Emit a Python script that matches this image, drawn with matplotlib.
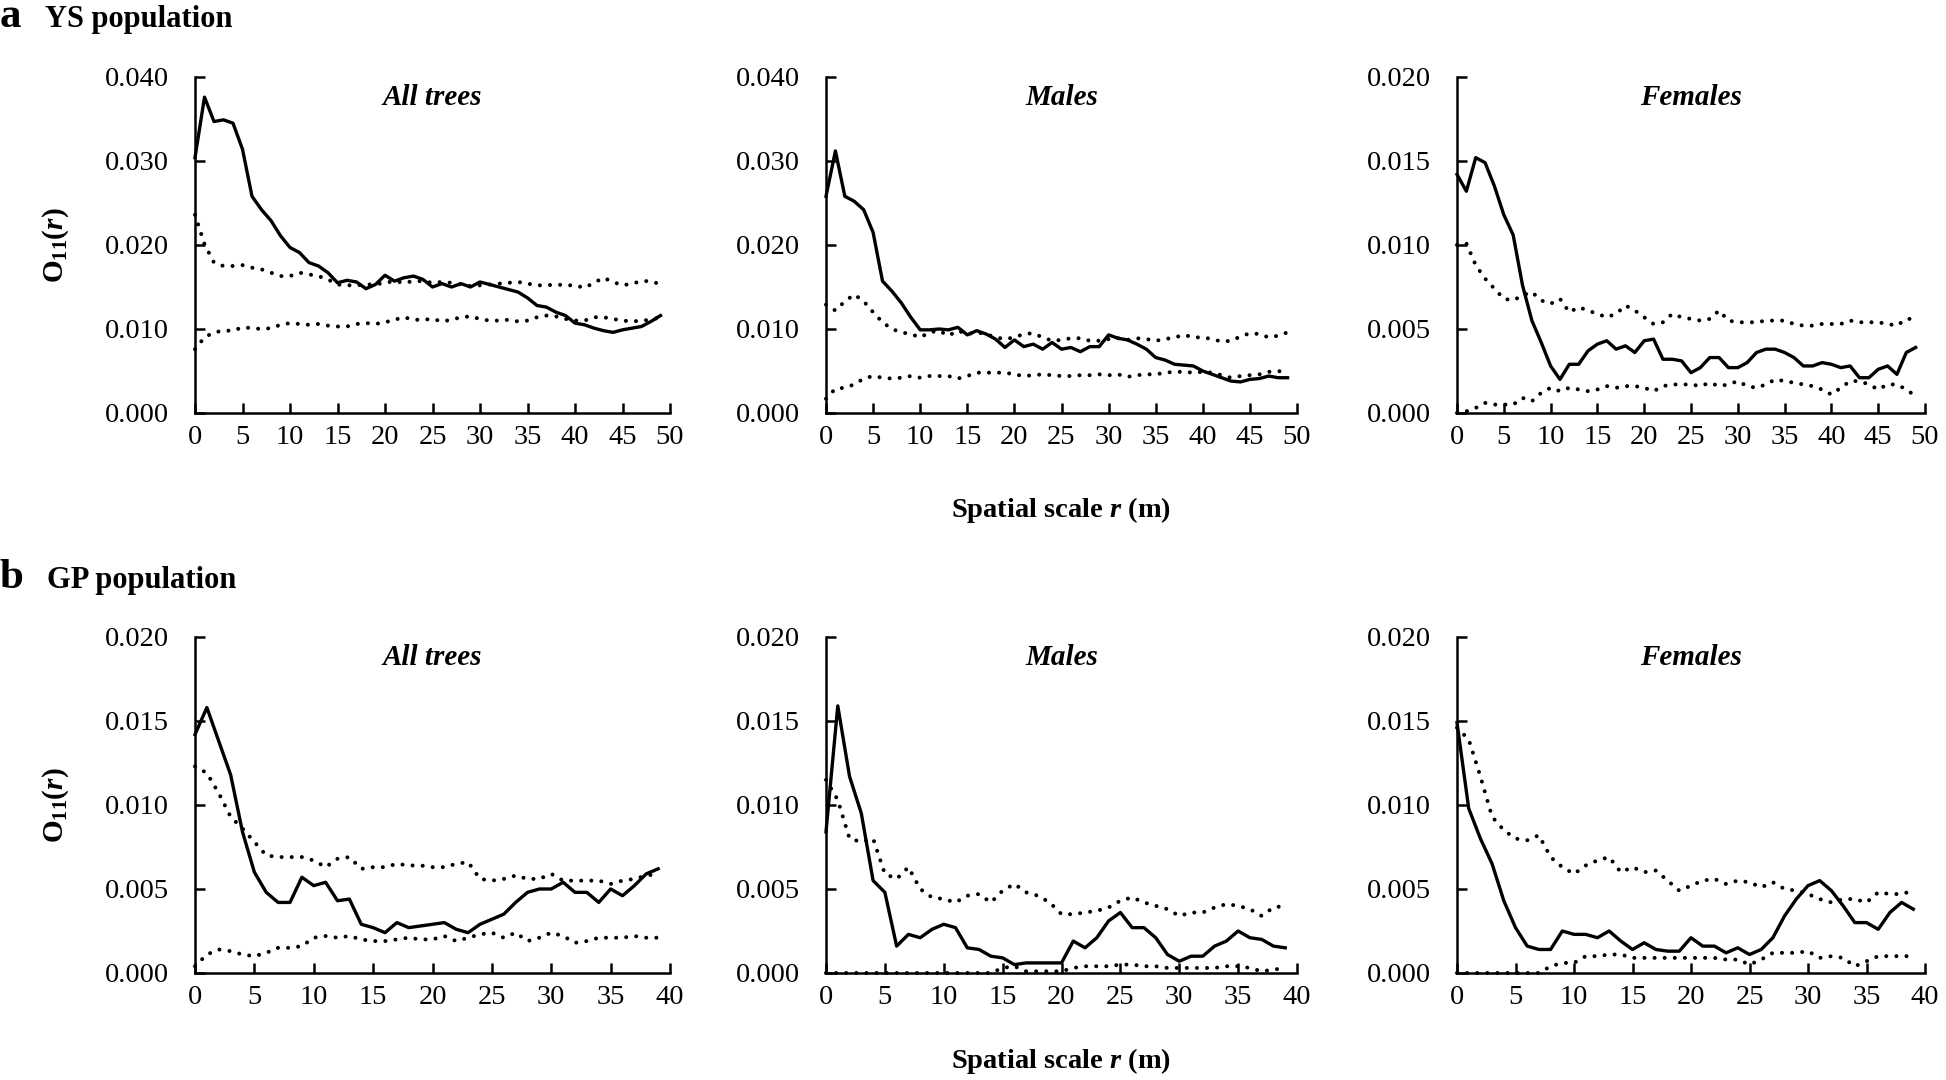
import matplotlib
matplotlib.use("Agg")
import matplotlib.pyplot as plt
from matplotlib.ticker import MultipleLocator, FormatStrFormatter

plt.rcParams["font.family"] = ["Liberation Serif", "DejaVu Serif"]
plt.rcParams["mathtext.fontset"] = "custom"
plt.rcParams["mathtext.rm"] = "Liberation Serif"
plt.rcParams["mathtext.bf"] = "Liberation Serif:bold"
plt.rcParams["mathtext.it"] = "Liberation Serif:italic"
plt.rcParams["mathtext.bfit"] = "Liberation Serif:italic:bold"

# ---- Data ----
r_ys = list(range(50))
r_gp = list(range(40))

# a) YS population, all trees
ys_all_obs = [0.0304, 0.0376, 0.0347, 0.0349, 0.0345, 0.0314, 0.0258, 0.0242, 0.0229, 0.0211,
              0.0197, 0.0191, 0.0179, 0.0175, 0.0167, 0.0155, 0.0158, 0.0156, 0.0148, 0.0153,
              0.0164, 0.0157, 0.0161, 0.0163, 0.0159, 0.0150, 0.0154, 0.0150, 0.0154, 0.0150,
              0.0156, 0.0153, 0.0150, 0.0147, 0.0144, 0.0137, 0.0128, 0.0126, 0.0120, 0.0116,
              0.0107, 0.0105, 0.0101, 0.0098, 0.0096, 0.0099, 0.0101, 0.0103, 0.0109, 0.0116]
ys_all_hi = [0.0236, 0.0201, 0.0179, 0.0175, 0.0175, 0.0176, 0.0173, 0.0171, 0.0167, 0.0163,
             0.0163, 0.0167, 0.0165, 0.0163, 0.0159, 0.0153, 0.0152, 0.0152, 0.0153, 0.0153,
             0.0155, 0.0157, 0.0155, 0.0157, 0.0157, 0.0155, 0.0156, 0.0155, 0.0153, 0.0151,
             0.0152, 0.0153, 0.0154, 0.0155, 0.0156, 0.0154, 0.0152, 0.0152, 0.0153, 0.0152,
             0.0152, 0.0149, 0.0155, 0.0161, 0.0156, 0.0152, 0.0154, 0.0157, 0.0157, 0.0153]
ys_all_lo = [0.0076, 0.0090, 0.0096, 0.0098, 0.0098, 0.0102, 0.0101, 0.0100, 0.0101, 0.0105,
             0.0107, 0.0106, 0.0105, 0.0106, 0.0104, 0.0103, 0.0103, 0.0106, 0.0107, 0.0106,
             0.0108, 0.0111, 0.0114, 0.0111, 0.0111, 0.0112, 0.0109, 0.0111, 0.0114, 0.0115,
             0.0112, 0.0110, 0.0110, 0.0111, 0.0109, 0.0110, 0.0114, 0.0116, 0.0115, 0.0112,
             0.0110, 0.0110, 0.0114, 0.0114, 0.0112, 0.0110, 0.0109, 0.0110, 0.0111, 0.0114]

# a) YS population, males
ys_male_obs = [0.0258, 0.0312, 0.0258, 0.0252, 0.0242, 0.0215, 0.0157, 0.0145, 0.0131, 0.0114,
               0.0099, 0.0099, 0.0100, 0.0099, 0.0102, 0.0093, 0.0098, 0.0094, 0.0088, 0.0078,
               0.0087, 0.0079, 0.0082, 0.0076, 0.0084, 0.0076, 0.0078, 0.0073, 0.0079, 0.0079,
               0.0093, 0.0089, 0.0087, 0.0082, 0.0076, 0.0066, 0.0063, 0.0058, 0.0057, 0.0056,
               0.0050, 0.0046, 0.0042, 0.0038, 0.0037, 0.0040, 0.0041, 0.0044, 0.0042, 0.0042]
ys_male_hi = [0.0129, 0.0122, 0.0133, 0.0141, 0.0133, 0.0120, 0.0108, 0.0100, 0.0096, 0.0094,
              0.0090, 0.0096, 0.0098, 0.0092, 0.0098, 0.0094, 0.0096, 0.0094, 0.0090, 0.0088,
              0.0090, 0.0094, 0.0095, 0.0090, 0.0086, 0.0087, 0.0089, 0.0089, 0.0086, 0.0086,
              0.0088, 0.0089, 0.0087, 0.0089, 0.0088, 0.0086, 0.0088, 0.0090, 0.0093, 0.0090,
              0.0090, 0.0088, 0.0085, 0.0086, 0.0091, 0.0095, 0.0094, 0.0090, 0.0092, 0.0096]
ys_male_lo = [0.0017, 0.0029, 0.0030, 0.0034, 0.0041, 0.0044, 0.0042, 0.0041, 0.0042, 0.0044,
              0.0042, 0.0044, 0.0044, 0.0044, 0.0041, 0.0044, 0.0048, 0.0048, 0.0048, 0.0048,
              0.0046, 0.0044, 0.0045, 0.0046, 0.0045, 0.0044, 0.0044, 0.0045, 0.0045, 0.0046,
              0.0045, 0.0046, 0.0043, 0.0045, 0.0046, 0.0046, 0.0048, 0.0049, 0.0049, 0.0048,
              0.0049, 0.0048, 0.0045, 0.0042, 0.0044, 0.0045, 0.0046, 0.0049, 0.0050, 0.0048]

# a) YS population, females
ys_fem_obs = [0.0142, 0.0132, 0.0152, 0.0149, 0.0135, 0.0118, 0.0106, 0.0076, 0.0055, 0.0042,
              0.0028, 0.0020, 0.0029, 0.0029, 0.0037, 0.0041, 0.0043, 0.0038, 0.0040, 0.0036,
              0.0043, 0.0044, 0.0032, 0.0032, 0.0031, 0.0024, 0.0027, 0.0033, 0.0033, 0.0027,
              0.0027, 0.0030, 0.0036, 0.0038, 0.0038, 0.0036, 0.0033, 0.0028, 0.0028, 0.0030,
              0.0029, 0.0027, 0.0028, 0.0021, 0.0021, 0.0026, 0.0028, 0.0023, 0.0036, 0.0039]
ys_fem_hi = [0.0100, 0.0101, 0.0088, 0.0080, 0.0074, 0.0068, 0.0067, 0.0070, 0.0072, 0.0067,
             0.0065, 0.0068, 0.0060, 0.0063, 0.0061, 0.0059, 0.0057, 0.0059, 0.0064, 0.0061,
             0.0057, 0.0053, 0.0054, 0.0059, 0.0057, 0.0056, 0.0055, 0.0056, 0.0061, 0.0055,
             0.0054, 0.0054, 0.0054, 0.0055, 0.0055, 0.0055, 0.0053, 0.0052, 0.0052, 0.0053,
             0.0053, 0.0053, 0.0055, 0.0054, 0.0054, 0.0054, 0.0053, 0.0052, 0.0056, 0.0056]
ys_fem_lo = [0.0000, 0.0001, 0.0003, 0.0006, 0.0005, 0.0005, 0.0005, 0.0009, 0.0007, 0.0012,
             0.0015, 0.0013, 0.0015, 0.0014, 0.0013, 0.0014, 0.0016, 0.0015, 0.0016, 0.0016,
             0.0015, 0.0013, 0.0016, 0.0017, 0.0017, 0.0017, 0.0016, 0.0018, 0.0016, 0.0017,
             0.0019, 0.0016, 0.0015, 0.0017, 0.0020, 0.0019, 0.0018, 0.0017, 0.0016, 0.0014,
             0.0011, 0.0015, 0.0019, 0.0019, 0.0017, 0.0014, 0.0017, 0.0017, 0.0014, 0.0010]

# b) GP population, all trees
gp_all_obs = [0.0142, 0.0158, 0.0138, 0.0118, 0.0084, 0.0060, 0.0048, 0.0042, 0.0042, 0.0057,
              0.0052, 0.0054, 0.0043, 0.0044, 0.0029, 0.0027, 0.0024, 0.0030, 0.0027, 0.0028,
              0.0029, 0.0030, 0.0026, 0.0024, 0.0029, 0.0032, 0.0035, 0.0042, 0.0048, 0.0050,
              0.0050, 0.0054, 0.0048, 0.0048, 0.0042, 0.0050, 0.0046, 0.0052, 0.0059, 0.0062]
gp_all_hi = [0.0123, 0.0119, 0.0107, 0.0093, 0.0086, 0.0078, 0.0070, 0.0069, 0.0069, 0.0069,
             0.0067, 0.0063, 0.0068, 0.0069, 0.0062, 0.0063, 0.0063, 0.0065, 0.0064, 0.0064,
             0.0063, 0.0063, 0.0065, 0.0066, 0.0056, 0.0055, 0.0056, 0.0058, 0.0056, 0.0056,
             0.0059, 0.0055, 0.0055, 0.0055, 0.0055, 0.0053, 0.0055, 0.0056, 0.0058, 0.0059]
gp_all_lo = [0.0004, 0.0011, 0.0014, 0.0013, 0.0011, 0.0010, 0.0012, 0.0015, 0.0015, 0.0016,
             0.0021, 0.0022, 0.0021, 0.0022, 0.0020, 0.0019, 0.0019, 0.0020, 0.0021, 0.0020,
             0.0020, 0.0022, 0.0019, 0.0021, 0.0023, 0.0024, 0.0021, 0.0024, 0.0019, 0.0021,
             0.0024, 0.0022, 0.0018, 0.0019, 0.0021, 0.0021, 0.0021, 0.0022, 0.0021, 0.0021]

# b) GP population, males
gp_male_obs = [0.0084, 0.0159, 0.0117, 0.0095, 0.0055, 0.0048, 0.0016, 0.0023, 0.0021, 0.0026,
               0.0029, 0.0027, 0.0015, 0.0014, 0.0010, 0.0009, 0.0005, 0.0006, 0.0006, 0.0006,
               0.0006, 0.0019, 0.0015, 0.0021, 0.0031, 0.0036, 0.0027, 0.0027, 0.0021, 0.0011,
               0.0007, 0.0010, 0.0010, 0.0016, 0.0019, 0.0025, 0.0021, 0.0020, 0.0016, 0.0015]
gp_male_hi = [0.0115, 0.0103, 0.0080, 0.0078, 0.0080, 0.0059, 0.0056, 0.0063, 0.0050, 0.0045,
              0.0044, 0.0042, 0.0046, 0.0047, 0.0042, 0.0049, 0.0053, 0.0048, 0.0046, 0.0042,
              0.0035, 0.0035, 0.0036, 0.0037, 0.0039, 0.0043, 0.0045, 0.0042, 0.0040, 0.0038,
              0.0034, 0.0036, 0.0036, 0.0039, 0.0041, 0.0040, 0.0038, 0.0034, 0.0039, 0.0040]
gp_male_lo = [0.0000, 0.0000, 0.0000, 0.0000, 0.0000, 0.0000, 0.0000, 0.0000, 0.0000, 0.0000,
              0.0000, 0.0000, 0.0000, 0.0000, 0.0000, 0.0003, 0.0004, 0.0001, 0.0001, 0.0001,
              0.0001, 0.0003, 0.0004, 0.0004, 0.0004, 0.0005, 0.0005, 0.0004, 0.0004, 0.0003,
              0.0003, 0.0003, 0.0003, 0.0003, 0.0004, 0.0004, 0.0003, 0.0001, 0.0002, 0.0003]

# b) GP population, females
gp_fem_obs = [0.0149, 0.0098, 0.0080, 0.0065, 0.0043, 0.0027, 0.0016, 0.0014, 0.0014, 0.0025,
              0.0023, 0.0023, 0.0021, 0.0025, 0.0019, 0.0014, 0.0018, 0.0014, 0.0013, 0.0013,
              0.0021, 0.0016, 0.0016, 0.0012, 0.0015, 0.0011, 0.0014, 0.0021, 0.0034, 0.0044,
              0.0052, 0.0055, 0.0049, 0.0040, 0.0030, 0.0030, 0.0026, 0.0036, 0.0042, 0.0038]
gp_fem_hi = [0.0146, 0.0139, 0.0117, 0.0093, 0.0085, 0.0080, 0.0079, 0.0082, 0.0069, 0.0063,
             0.0059, 0.0064, 0.0067, 0.0069, 0.0060, 0.0063, 0.0060, 0.0061, 0.0055, 0.0049,
             0.0052, 0.0055, 0.0056, 0.0053, 0.0055, 0.0054, 0.0051, 0.0054, 0.0050, 0.0049,
             0.0047, 0.0044, 0.0042, 0.0044, 0.0044, 0.0042, 0.0048, 0.0047, 0.0047, 0.0049]
gp_fem_lo = [0.0000, 0.0000, 0.0000, 0.0000, 0.0000, 0.0000, 0.0000, 0.0000, 0.0004, 0.0006,
             0.0006, 0.0010, 0.0010, 0.0011, 0.0011, 0.0009, 0.0009, 0.0009, 0.0009, 0.0009,
             0.0009, 0.0009, 0.0009, 0.0008, 0.0008, 0.0005, 0.0008, 0.0012, 0.0012, 0.0012,
             0.0013, 0.0009, 0.0010, 0.0009, 0.0004, 0.0007, 0.0010, 0.0010, 0.0010, 0.0010]

titles = ["All trees", "Males", "Females"]

# ---- Figure ----
W, H = 1946, 1080
fig = plt.figure(figsize=(W / 100, H / 100), dpi=100)

col_left = [195, 826, 1457]
col_width = [475, 471, 468]
row_top = [77, 637]
row_height = 336

panels = [
    (0, 0, r_ys, ys_all_obs, ys_all_hi, ys_all_lo, 0.040, 0.010, 50),
    (0, 1, r_ys, ys_male_obs, ys_male_hi, ys_male_lo, 0.040, 0.010, 50),
    (0, 2, r_ys, ys_fem_obs, ys_fem_hi, ys_fem_lo, 0.020, 0.005, 50),
    (1, 0, r_gp, gp_all_obs, gp_all_hi, gp_all_lo, 0.020, 0.005, 40),
    (1, 1, r_gp, gp_male_obs, gp_male_hi, gp_male_lo, 0.020, 0.005, 40),
    (1, 2, r_gp, gp_fem_obs, gp_fem_hi, gp_fem_lo, 0.020, 0.005, 40),
]

dot_style = dict(color="black", linewidth=2.9, linestyle=(0, (0.01, 2.5)),
                 dash_capstyle="round", clip_on=False)

for row, col, r, obs, hi, lo, ymax, ystep, xmax in panels:
    left = col_left[col] / W
    bottom = 1 - (row_top[row] + row_height) / H
    ax = fig.add_axes([left, bottom, col_width[col] / W, row_height / H])

    ax.plot(r, hi, **dot_style)
    ax.plot(r, lo, **dot_style)
    ax.plot(r, obs, color="black", linewidth=2.4, clip_on=False)

    ax.set_xlim(0, xmax)
    ax.set_ylim(0, ymax)
    ax.xaxis.set_major_locator(MultipleLocator(5))
    ax.yaxis.set_major_locator(MultipleLocator(ystep))
    ax.yaxis.set_major_formatter(FormatStrFormatter("%.3f"))

    for side in ("top", "right"):
        ax.spines[side].set_visible(False)
    for side in ("left", "bottom"):
        ax.spines[side].set_linewidth(1.8)
    ax.tick_params(axis="both", direction="in", length=7, width=1.8,
                   labelsize=20.5)
    ax.tick_params(axis="y", pad=19)
    ax.tick_params(axis="x", pad=9)

    ax.text(0.5, 0.94, titles[col], transform=ax.transAxes, ha="center",
            va="center", fontsize=21, fontweight="bold", style="italic")

    if col == 0:
        ax.text(-0.293, 0.5, r"$\mathbf{O}_{\mathbf{11}}\mathbf{(}\mathbfit{r}\mathbf{)}$",
                transform=ax.transAxes, rotation=90, ha="center", va="center",
                fontsize=21)

# Panel letters and population labels
fig.text(0 / W, 1 - 27 / H, "a", fontsize=31, fontweight="bold", va="baseline")
fig.text(45 / W, 1 - 27 / H, "YS population", fontsize=22, fontweight="bold", va="baseline")
fig.text(0 / W, 1 - 588 / H, "b", fontsize=31, fontweight="bold", va="baseline")
fig.text(47 / W, 1 - 588 / H, "GP population", fontsize=22, fontweight="bold", va="baseline")

# Shared x-axis labels
for base in (517, 1068):
    fig.text(1061 / W, 1 - base / H, r"Spatial scale $\mathbfit{r}$ (m)",
             fontsize=20.5, fontweight="bold", ha="center", va="baseline")

fig.savefig("out.png", dpi=100)
